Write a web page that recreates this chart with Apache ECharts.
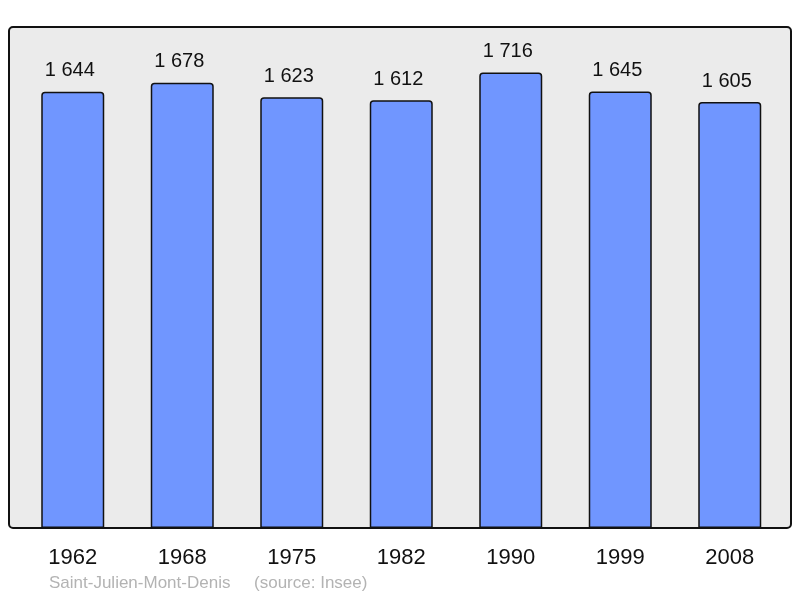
<!DOCTYPE html>
<html><head><meta charset="utf-8">
<script src="https://cdn.jsdelivr.net/npm/echarts@6/dist/echarts.min.js"></script>
<style>html,body{margin:0;padding:0;background:#fff}#c{width:800px;height:598px}</style>
</head><body><div id="c"></div>
<script>
var years = ['1962','1968','1975','1982','1990','1999','2008'];
var population = [1644, 1678, 1623, 1612, 1716, 1645, 1605];
var commune = 'Saint-Julien-Mont-Denis';
var source = '(source: Insee)';

var chart = echarts.init(document.getElementById('c'), null, {renderer:'canvas'});
function fmt(v){ var s=String(v); return s.length>3 ? s.slice(0,s.length-3)+' '+s.slice(-3) : s; }
chart.setOption({
  animation:false,
  textStyle:{fontFamily:'Liberation Sans, Arial, sans-serif'},
  graphic:[
    {type:'rect', z:-10, shape:{x:9,y:27,width:782,height:501,r:4}, style:{fill:'#ebebeb',stroke:'#111',lineWidth:2}},
    {type:'text', left:49, top:575, style:{text:commune+'     '+source, fill:'#b3b3b3', font:'17px Liberation Sans, Arial, sans-serif'}}
  ],
  grid:{left:18, right:15.5, top:27, bottom:70},
  xAxis:{type:'category', data:years, axisLine:{show:false}, axisTick:{show:false},
    axisLabel:{color:'#111', fontSize:22, margin:19}},
  yAxis:{type:'value', min:0, max:1887.6, show:false, splitLine:{show:false}},
  series:[{type:'bar', data:population, barWidth:63,
    itemStyle:{color:'#7096ff', borderColor:'#111', borderWidth:1.5, borderRadius:[3,3,0,0]},
    label:{show:true, position:'top', distance:11, color:'#111', fontSize:20, offset:[-3,0], formatter:function(p){return fmt(p.value);}}
  }]
});
</script></body></html>
